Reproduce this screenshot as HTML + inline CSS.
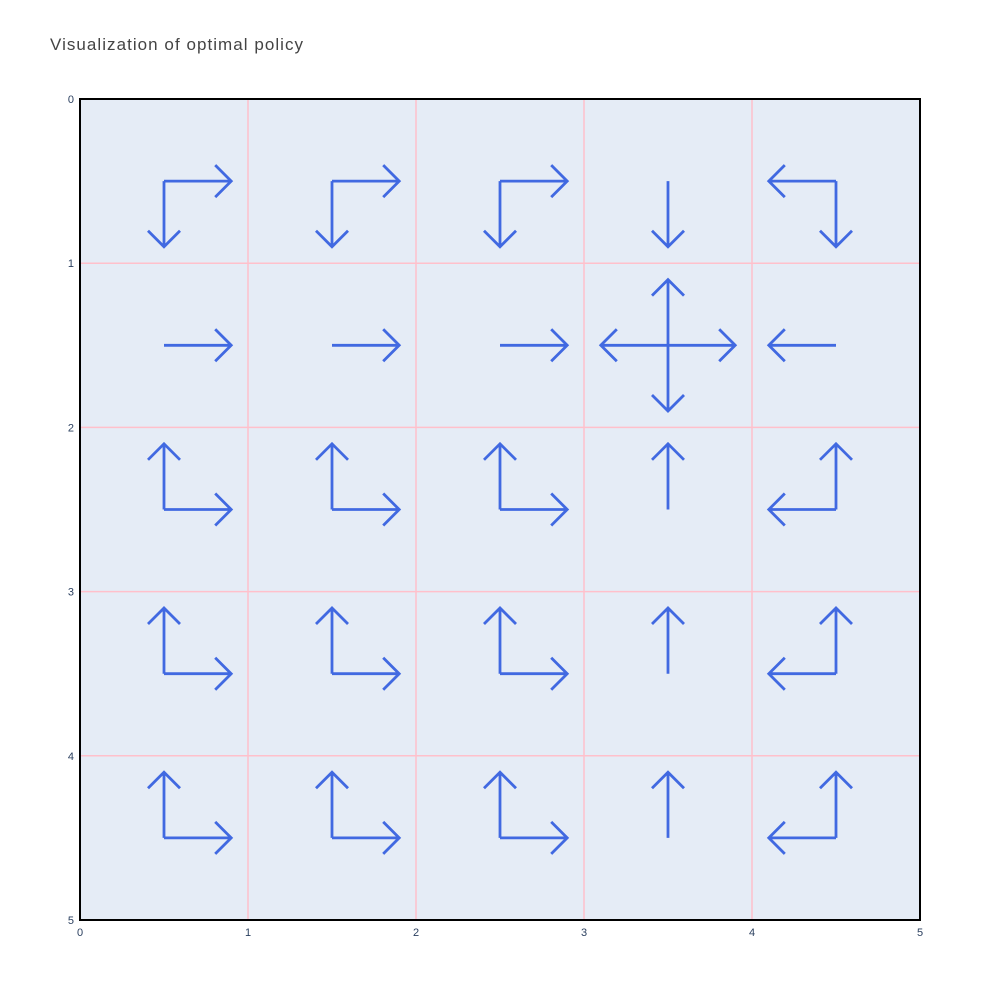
<!DOCTYPE html>
<html><head><meta charset="utf-8"><style>body{margin:0;background:#fff}svg{display:block;font-family:"Liberation Sans",sans-serif}</style></head>
<body>
<svg id="chart" width="1000" height="1000" viewBox="0 0 1000 1000">
<text x="50" y="50" font-size="17" fill="#444" textLength="253" lengthAdjust="spacing">Visualization of optimal policy</text>
<rect x="80" y="99" width="840" height="821" fill="#e5ecf6"/>
<g id="grid"></g><g id="arrows"></g><g id="ticks"></g>
<rect x="80" y="99" width="840" height="821" fill="none" stroke="#000" stroke-width="2"/>
</svg>
<script>
const xTicks=[0,1,2,3,4,5];
const yTicks=[0,1,2,3,4,5];
const policy=[
 ["DR","DR","DR","D","LD"],
 ["R","R","R","UDLR","L"],
 ["UR","UR","UR","U","UL"],
 ["UR","UR","UR","U","UL"],
 ["UR","UR","UR","U","UL"]];
const arrowLen=0.4;
const NS="http://www.w3.org/2000/svg";
const X=v=>80+v*168, Y=v=>99+v*164.2;
function mk(t,a,p){const e=document.createElementNS(NS,t);for(const k in a)e.setAttribute(k,a[k]);p.appendChild(e);return e;}
const grid=document.getElementById('grid'),ticks=document.getElementById('ticks'),arrows=document.getElementById('arrows');
xTicks.forEach(v=>{
 if(v>0&&v<5){const l=mk('line',{x1:X(v),x2:X(v),y1:99,y2:920,stroke:'#ffc0cb','stroke-width':1.5},grid);
 }
 const t=mk('text',{x:X(v),y:936,'text-anchor':'middle','font-size':11,fill:'#2a3f5f'},ticks);t.textContent=v;
 
});
yTicks.forEach(v=>{
 if(v>0&&v<5){const l=mk('line',{x1:80,x2:920,y1:Y(v),y2:Y(v),stroke:'#ffc0cb','stroke-width':1.5},grid);
 }
 const t=mk('text',{x:74,y:Y(v)+4,'text-anchor':'end','font-size':11,fill:'#2a3f5f'},ticks);t.textContent=v;
 
});
const dirs={U:[0,-1],D:[0,1],L:[-1,0],R:[1,0]};
policy.forEach((row,r)=>row.forEach((s,c)=>{
 for(const ch of s){
  const [dx,dy]=dirs[ch];
  const x0=X(c+0.5),y0=Y(r+0.5),x1=X(c+0.5+dx*arrowLen),y1=Y(r+0.5+dy*arrowLen);
  const h=16,px=-dy,py=dx;
  const d=`M${x0},${y0}L${x1},${y1}M${x1-dx*h+px*h},${y1-dy*h+py*h}L${x1},${y1}L${x1-dx*h-px*h},${y1-dy*h-py*h}`;
  const p=mk('path',{d:d,fill:'none',stroke:'#4169e1','stroke-width':2.8},arrows);
  
 }
}));
</script>
</body></html>
